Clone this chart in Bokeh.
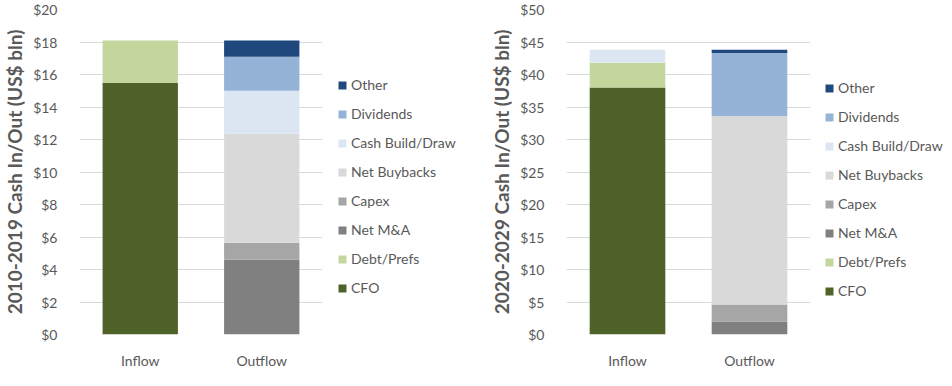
from bokeh.plotting import figure
from bokeh.layouts import row
from bokeh.models import FactorRange, Range1d, FixedTicker, Legend, LegendItem
from bokeh.embed import file_html
from bokeh.resources import INLINE

categories = ["Inflow", "Outflow"]
series = ["CFO", "Debt/Prefs", "Net M&A", "Capex", "Net Buybacks",
          "Cash Build/Draw", "Dividends", "Other"]
colors = ["#4F6228", "#C3D69B", "#808080", "#A6A6A6", "#D9D9D9",
          "#DCE6F2", "#95B3D7", "#1F497D"]

# 2010-2019 (US$ bln)
left_cfo = [15.5, 0.0]
left_debt = [2.6, 0.0]
left_mna = [0.0, 4.6]
left_capex = [0.0, 1.05]
left_buybacks = [0.0, 6.7]
left_cash = [0.0, 2.65]
left_dividends = [0.0, 2.1]
left_other = [0.0, 1.0]

# 2020-2029 (US$ bln)
right_cfo = [38.0, 0.0]
right_debt = [3.8, 0.0]
right_mna = [0.0, 2.0]
right_capex = [0.0, 2.6]
right_buybacks = [0.0, 29.0]
right_cash = [2.0, 0.0]
right_dividends = [0.0, 9.7]
right_other = [0.0, 0.5]

left_ticks = [0, 2, 4, 6, 8, 10, 12, 14, 16, 18, 20]
left_tick_labels = ["$0", "$2", "$4", "$6", "$8", "$10", "$12", "$14", "$16", "$18", "$20"]
right_ticks = [0, 5, 10, 15, 20, 25, 30, 35, 40, 45, 50]
right_tick_labels = ["$0", "$5", "$10", "$15", "$20", "$25", "$30", "$35", "$40", "$45", "$50"]

left_title = "2010-2019 Cash In/Out (US$ bln)"
right_title = "2020-2029 Cash In/Out (US$ bln)"

FONT = "Lato"
TXT = "#595959"
H = 370


def make_chart(values, ticks, tick_labels, ymax, title, fw, fh, bl, bt, bb):
    data = {"cat": categories}
    for name, vals in zip(series, values):
        data[name] = vals
    p = figure(x_range=FactorRange(*categories, range_padding=0),
               y_range=Range1d(0, ymax),
               frame_width=fw, frame_height=fh,
               min_border_left=bl, min_border_top=bt, min_border_bottom=bb,
               min_border_right=0,
               output_backend="svg", toolbar_location=None)
    p.outline_line_color = None
    p.background_fill_color = "white"
    p.border_fill_color = "white"
    p.vbar_stack(series, x="cat", width=0.62, color=colors, line_color=None,
                 source=data)
    p.xgrid.grid_line_color = None
    p.ygrid.grid_line_color = "#D9D9D9"
    p.ygrid.grid_line_width = 1
    p.yaxis.ticker = FixedTicker(ticks=ticks)
    p.yaxis.major_label_overrides = {t: l for t, l in zip(ticks, tick_labels)}
    for ax in (p.xaxis, p.yaxis):
        ax.axis_line_color = None
        ax.major_tick_line_color = None
        ax.minor_tick_line_color = None
        ax.major_label_text_font = FONT
        ax.major_label_text_font_size = "14px"
        ax.major_label_text_color = TXT
    p.yaxis.major_label_standoff = 16
    p.xaxis.major_label_standoff = 11
    p.yaxis.axis_label = title
    p.yaxis.axis_label_text_font = FONT
    p.yaxis.axis_label_text_font_style = "bold"
    p.yaxis.axis_label_text_font_size = "19px"
    p.yaxis.axis_label_text_color = TXT
    p.yaxis.axis_label_standoff = 4
    return p


def make_legend(w, leg_x, leg_y):
    q = figure(width=w, height=H, x_range=Range1d(0, 1), y_range=Range1d(0, 1),
               x_axis_type=None, y_axis_type=None,
               min_border=0, output_backend="svg", toolbar_location=None)
    q.outline_line_color = None
    q.xgrid.grid_line_color = None
    q.ygrid.grid_line_color = None
    rs = [q.vbar(x=[-5], top=[0], width=0.5, color=c, line_color=None) for c in colors]
    items = [LegendItem(label=name, renderers=[r]) for name, r in zip(series, rs)][::-1]
    leg = Legend(items=items, location=(leg_x, leg_y),
                 glyph_width=10, glyph_height=10, label_height=21, spacing=8,
                 padding=0, margin=0, label_standoff=4,
                 label_text_font=FONT, label_text_font_size="14px",
                 label_text_color=TXT,
                 border_line_color=None, background_fill_alpha=0)
    q.add_layout(leg)
    return q


p1 = make_chart([left_cfo, left_debt, left_mna, left_capex, left_buybacks,
                 left_cash, left_dividends, left_other],
                left_ticks, left_tick_labels, 20, left_title,
                243, 325, 61, 6, 39)
l1 = make_legend(164, 15, 33)
p2 = make_chart([right_cfo, right_debt, right_mna, right_capex, right_buybacks,
                 right_cash, right_dividends, right_other],
                right_ticks, right_tick_labels, 50, right_title,
                244, 325, 80, 9, 36)
l2 = make_legend(144, 14, 30)

layout = row(p1, l1, p2, l2, spacing=0)
open("out.html", "w").write(file_html(layout, INLINE))
